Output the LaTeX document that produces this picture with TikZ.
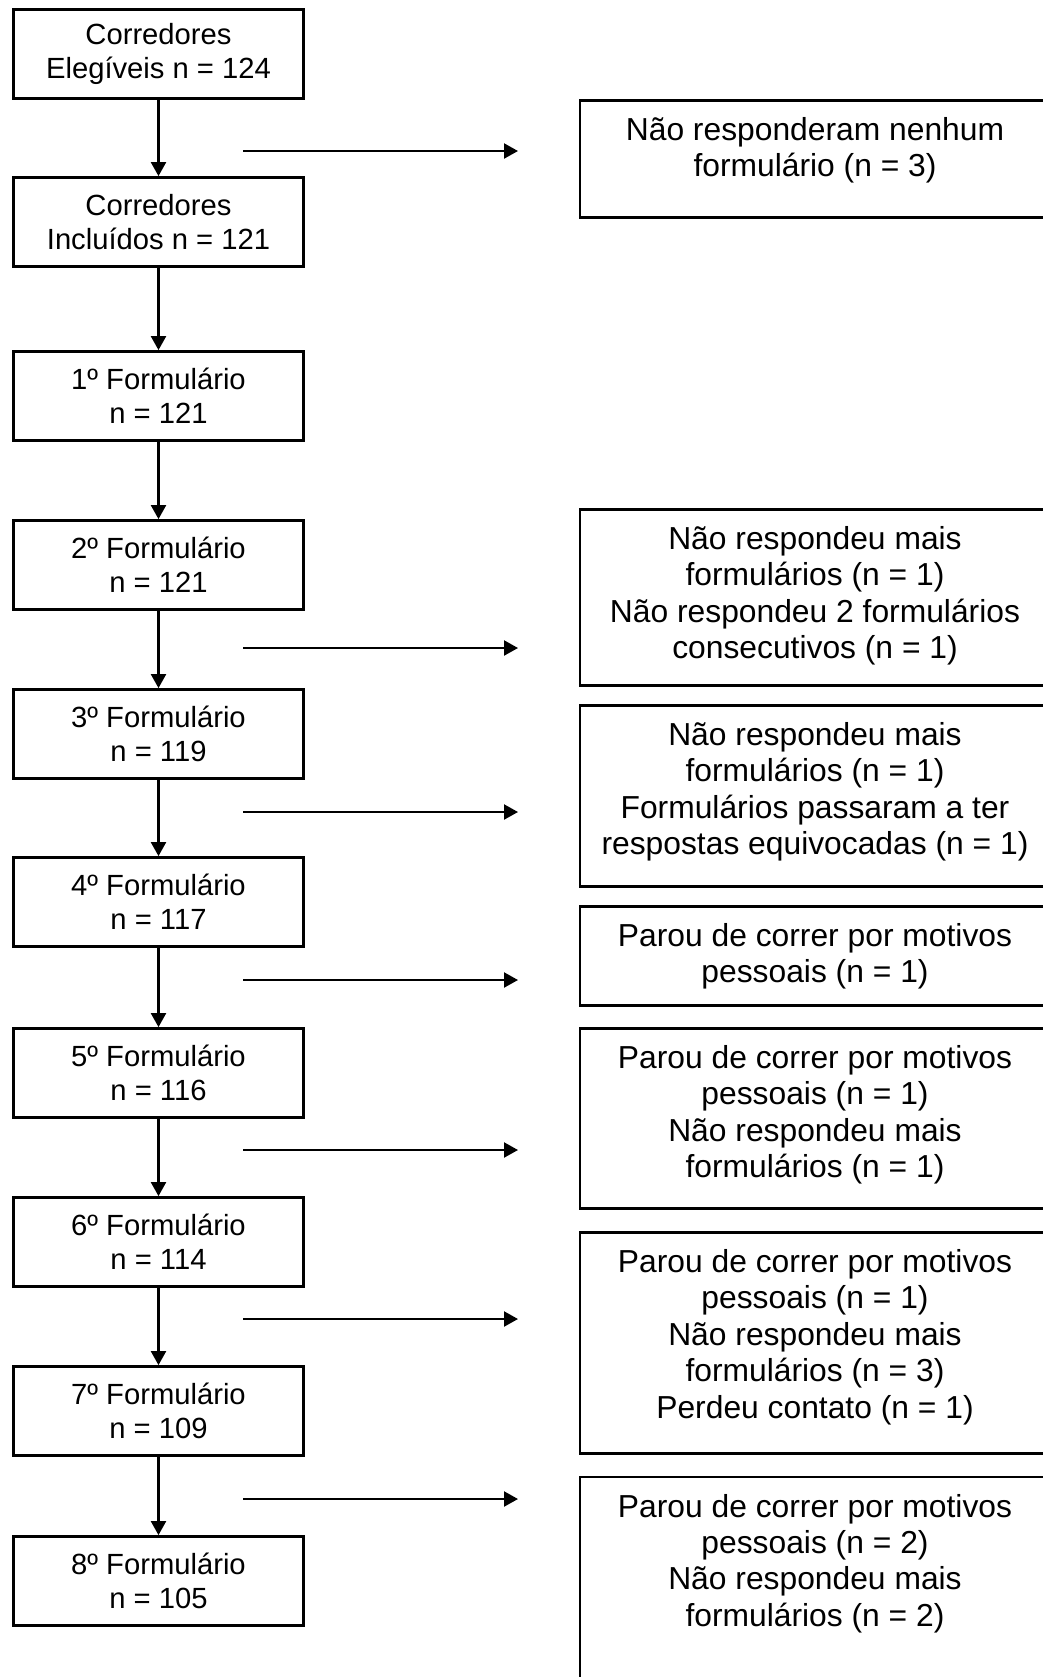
\documentclass[tikz,border=0pt]{standalone}
\usepackage{fontspec}
\setmainfont{Liberation Sans}
\usetikzlibrary{arrows.meta, positioning}

\tikzset{
    leftbox/.style={draw, line width=1.4pt, minimum width=145pt, minimum height=44.5pt,
        inner sep=0pt, align=center, font=\fontsize{14.6}{17}\selectfont},
    rightbox/.style={draw, line width=1.4pt, minimum width=235pt, inner sep=0pt},
    righttext/.style={anchor=north, inner sep=0pt, align=center,
        font=\fontsize{15.9}{18.2}\selectfont},
    arr/.style={-{Triangle[length=7pt, width=7.5pt]}, line width=1.1pt}
}

\begin{document}
\begin{tikzpicture}[x=0.5pt, y=-0.5pt]
    \useasboundingbox (0,0) rectangle (1043,1677);
    \fill[white] (0,0) rectangle (1043,1677);
    \clip (0,0) rectangle (1043,1677);

    % Left column
    \node[leftbox] (c1) at (158.5,54) {Corredores\\Elegíveis n = 124};
    \node[leftbox] (c2) at (158.5,222) {Corredores\\Incluídos n = 121};
    \foreach \i/\y/\n in {1/396/121, 2/565/121, 3/734/119, 4/902/117,
                          5/1073/116, 6/1242/114, 7/1411/109, 8/1581/105}
        \node[leftbox] (f\i) at (158.5,\y) {{\i}º Formulário\\n = \n};

    % Vertical arrows
    \foreach \a/\b in {c1/c2, c2/f1, f1/f2, f2/f3, f3/f4, f4/f5, f5/f6, f6/f7, f7/f8}
        \draw[arr] (\a) -- (\b);

    % Side arrows
    \foreach \k/\y in {1/151, 2/648, 3/812, 4/980, 5/1150, 6/1319, 7/1499} {
        \coordinate (s\k) at (243,\y);
        \coordinate (e\k) at (518,\y);
        \draw[arr] (s\k) -- (e\k);
    }

    % Right column
    \node[rightbox, minimum height=58.5pt] (r1) at (815,159) {};
    \node[righttext] (t1) at ([yshift=-9pt]r1.north)
        {Não responderam nenhum\\formulário (n = 3)};

    \node[rightbox, minimum height=88pt] (r2) at (815,597.5) {};
    \node[righttext] (t2) at ([yshift=-9pt]r2.north)
        {Não respondeu mais\\formulários (n = 1)\\Não respondeu 2 formulários\\consecutivos (n = 1)};

    \node[rightbox, minimum height=90.5pt] (r3) at (815,796) {};
    \node[righttext] (t3) at ([yshift=-9pt]r3.north)
        {Não respondeu mais\\formulários (n = 1)\\Formulários passaram a ter\\respostas equivocadas (n = 1)};

    \node[rightbox, minimum height=49.5pt] (r4) at (815,956) {};
    \node[righttext] (t4) at ([yshift=-9pt]r4.north)
        {Parou de correr por motivos\\pessoais (n = 1)};

    \node[rightbox, minimum height=90pt] (r5) at (815,1118.5) {};
    \node[righttext] (t5) at ([yshift=-9pt]r5.north)
        {Parou de correr por motivos\\pessoais (n = 1)\\Não respondeu mais\\formulários (n = 1)};

    \node[rightbox, minimum height=110.5pt] (r6) at (815,1343) {};
    \node[righttext] (t6) at ([yshift=-9pt]r6.north)
        {Parou de correr por motivos\\pessoais (n = 1)\\Não respondeu mais\\formulários (n = 3)\\Perdeu contato (n = 1)};

    \node[rightbox, minimum height=115pt] (r7) at (815,1592) {};
    \node[righttext] (t7) at ([yshift=-9pt]r7.north)
        {Parou de correr por motivos\\pessoais (n = 2)\\Não respondeu mais\\formulários (n = 2)};
\end{tikzpicture}
\end{document}
